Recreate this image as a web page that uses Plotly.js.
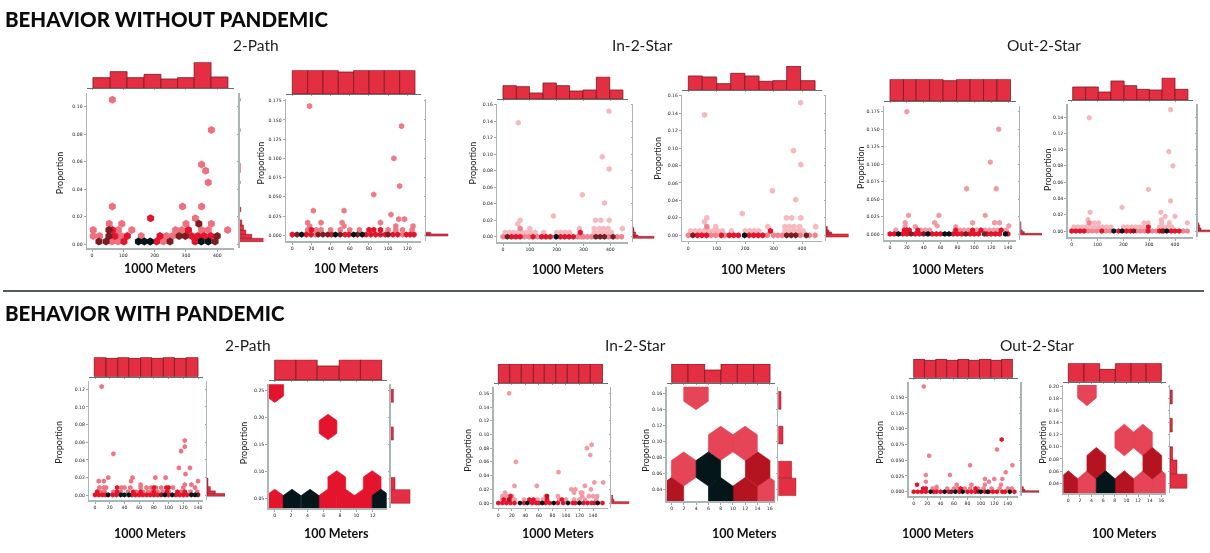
<!DOCTYPE html>
<html><head><meta charset="utf-8">
<script src="https://cdn.plot.ly/plotly-3.0.1.min.js"></script>
<style>html,body{margin:0;padding:0;background:#fff}#c{width:1210px;height:553px}
.cartesianlayer{filter:blur(.4px)}</style>
</head><body><div id="c"></div>
<script>
// ---------- data ----------
const a1TopEdges=[3,58,112,166,220,273,326,380,434];
const a1TopVals=[32,50,32,42,28,32,78,34];
const a1Right=[[.0019,.0044,72],[.0044,.0073,37],[.0073,.0104,19],[.0104,.014,12],[.014,.0177,7],[.0237,.0269,4],[.044,.046,2],[.052,.059,2],[.082,.084,2],[.104,.106,2]];
const a1Pale=[[64,.002],[83,.002],[228,.002],[4,.006],[24,.006],[93,.006],[157,.006],[238,.006],[257,.006],[4,.0104],[84,.0104],[127,.0104],[267,.0104],[287,.0104],[350,.0104],[371,.0104],[433,.0104],[55,.015],[95,.015],[300,.015],[381,.015],[330,.019],[65,.0275],[289,.0275],[350,.0275],[371,.045],[350,.058],[363,.0535],[381,.083],[65,.105]];
const a1Red=[[102,.002],[206,.002],[329,.002],[73,.006],[113,.006],[217,.006],[318,.006],[338,.006],[358,.006],[379,.006],[65,.0104],[308,.0104],[187,.019]];
const a1Dark=[[22,.002],[45,.002],[249,.002],[393,.002],[54,.006],[278,.006],[298,.006],[400,.006],[54,.0104],[341,.015]];
const a1Black=[[148,.002],[167,.002],[186,.002],[349,.002],[371,.002]];

const a2TopEdges=[0,16,32,48,64,80,96,112,128];
const a2TopVals=[71,71,71,66,71,71,71,71];
const a2Right=[[-.001,.0018,67],[.0018,.004,14]];
const a2Pale=[[24,.001],[115,.001],[16,.007],[25,.007],[30,.007],[40,.007],[50,.007],[60,.007],[70,.007],[100,.007],[108,.007],[115,.007],[125,.007],[18,.012],[54,.012],[108,.012],[126,.012],[16,.0165],[30,.0165],[52,.0165],[92,.0165],[111,.021],[117,.021],[103,.027],[22,.032],[54,.032],[85,.053],[112,.064],[106,.1],[114,.142],[18,.168]];
const a2Red=[[0,.001],[14.6,.001],[19.5,.001],[41,.001],[55,.001],[59,.001],[77,.001],[82,.001],[87,.001],[92,.001],[97,.001],[105,.001],[110,.001],[119,.001],[123,.001],[127,.001],[20,.007],[80,.007],[85,.007],[92,.007]];
const a2Dark=[[4.9,.001],[27,.001],[32,.001],[37,.001],[50,.001],[68,.001],[100,.001]];
const a2Black=[[9.7,.001],[45,.001],[64,.001],[73,.001]];

const a3TopEdges=[0,50,99,149,199,248,298,348,398,447];
const a3TopVals=[40,37,18,48,40,24,27,67,27];
const a3Right=[[-.002,.0004,64],[.0004,.002,15],[.002,.0057,8],[.0057,.0089,3],[.0089,.0113,2]];
const a3Pale=[[8,.005],[24,.005],[40,.005],[56,.005],[72,.005],[88,.005],[104,.005],[120,.005],[152,.005],[200,.005],[216,.005],[232,.005],[248,.005],[340,.005],[356,.005],[372,.005],[388,.005],[404,.005],[100,.01],[285,.01],[340,.01],[360,.01],[375,.01],[392,.01],[445,.01],[64,.02],[55,.0155],[188,.025],[345,.02],[365,.02],[396,.02],[378,.041],[296,.051],[396,.082],[370,.097],[57,.138],[395,.152]];
const a3Mid=[[0,0],[80,0],[96,0],[128,0],[278,0],[292,0],[300,0],[315,0],[330,0],[394,0],[426,0],[442,0],[64,.01]];
const a3Red=[[32,0],[48,0],[64,0],[112,0],[144,0],[160,0],[176,0],[214,0],[230,0],[246,0],[262,0],[288,.005]];
const a3Dark=[[16,0],[346,0],[362,0],[378,0],[410,0]];
const a3Black=[[198,0]];

const a4TopEdges=[0,49,100,149,199,249,297,346,395,446];
const a4TopVals=[43,40,20,51,43,27,29,73,29];
const a4Right=[[-.002,.0015,68],[.0015,.0038,17],[.0038,.006,9],[.006,.01,4]];
const a4Pale=[[8,.005],[24,.005],[40,.005],[56,.005],[72,.005],[88,.005],[104,.005],[120,.005],[152,.005],[200,.005],[216,.005],[232,.005],[248,.005],[340,.005],[356,.005],[372,.005],[388,.005],[404,.005],[96,.01],[280,.01],[340,.01],[356,.01],[372,.01],[392,.01],[448,.01],[65,.02],[57,.0155],[190,.025],[345,.02],[364,.02],[396,.02],[378,.041],[296,.051],[396,.081],[370,.097],[57,.138],[395,.152]];
const a4Mid=[[0,0],[80,0],[96,0],[128,0],[278,0],[300,0],[315,0],[330,0],[394,0],[426,0],[446,0],[65,.01]];
const a4Red=[[32,0],[48,0],[64,0],[116,0],[144,0],[160,0],[176,0],[214,0],[230,0],[246,0],[262,0],[289,.005]];
const a4Dark=[[16,0],[346,0],[362,0],[378,0],[415,0]];
const a4Black=[[198,0]];

const a5TopEdges=[0,16,31,47,63,79,95,111,127,143];
const a5TopVals=[65,65,65,65,61,65,65,65,65];
const a5Right=[[-.001,.0014,65],[.0014,.0038,12],[.0038,.0062,6],[.0062,.018,2]];
const a5Pale=[[7,.006],[37,.006],[42,.006],[47,.006],[83,.006],[88,.006],[93,.006],[103,.006],[113,.006],[118,.006],[123,.006],[128,.006],[138,.006],[30,.011],[18,.011],[56,.012],[141,.012],[78,.011],[18,.0165],[53,.0165],[98,.0165],[124,.0165],[130,.0165],[22,.027],[58,.027],[113,.027],[91,.065],[126,.065],[119,.103],[129,.15],[20,.175]];
const a5Red=[[0,.0005],[5,.0005],[15,.0005],[20,.0005],[30,.0005],[35,.0005],[50,.0005],[55,.0005],[60,.0005],[75,.0005],[80,.0005],[85,.0005],[95,.0005],[100,.0005],[105,.0005],[115,.0005],[120,.0005],[125,.0005],[130,.0005],[140,.0005],[17,.006],[20,.006],[23,.006],[33,.006],[78,.006],[98,.006],[108,.006],[132,.006]];
const a5Dark=[[25,.0005],[40,.0005],[90,.0005],[112,.0005]];
const a5Black=[[10,.0005],[45,.0005],[65,.0005],[70,.0005],[137,.0005]];

const a6TopEdges=[4,54,103,152,203,252,301,350,400,450];
const a6TopVals=[39,39,24,57,43,32,30,67,32];
const a6Right=[[-.001,.0012,37],[.0012,.0037,10],[.0037,.0074,6],[.0074,.0102,3]];
const a6Pale=[[8,.005],[24,.005],[40,.005],[56,.005],[72,.005],[88,.005],[104,.005],[120,.005],[136,.005],[152,.005],[200,.005],[216,.005],[232,.005],[248,.005],[264,.005],[280,.005],[296,.005],[340,.005],[356,.005],[372,.005],[388,.005],[70,.01],[88,.01],[104,.01],[280,.01],[296,.01],[348,.01],[378,.01],[448,.01],[63,.014],[348,.014],[362,.018],[400,.018],[71,.023],[345,.023],[195,.029],[383,.037],[297,.051],[392,.08],[376,.0975],[68,.139],[383,.149]];
const a6Mid=[[64,0],[80,0],[96,0],[132,0],[148,0],[250,0],[266,0],[282,0],[312,0],[328,0],[432,0],[448,0],[67,.01]];
const a6Red=[[0,0],[16,0],[32,0],[48,0],[116,0],[182,0],[212,0],[228,0],[296,0],[340,0],[356,0],[385,0],[400,0],[416,0],[297,.005]];
const a6Dark=[[240,0],[350,0]];
const a6Black=[[163,0],[195,0],[368,0]];

const b1TopEdges=[-1,15,31,46,62,77,93,108,124,140];
const b1TopVals=[58,55,58,55,58,55,58,55,58];
const b1Right=[[-.001,.002,54],[.002,.005,25],[.005,.0098,10],[.0098,.0196,3]];
const b1Pale=[[3,.004],[8,.004],[13,.004],[25,.004],[35,.004],[45,.004],[56,.004],[65,.004],[72,.004],[78,.004],[85,.004],[92,.004],[100,.004],[117,.004],[130,.004],[139,.004],[6,.0087],[12,.0087],[15,.0087],[36,.0087],[40,.0087],[48,.0087],[62,.0087],[70,.0087],[76,.0087],[83,.0087],[90,.0087],[106,.0087],[120,.0087],[136,.0087],[5,.016],[49,.016],[12,.016],[62,.012],[140,.016],[18,.02],[51,.02],[82,.02],[96,.02],[131,.012],[122,.012],[123,.024],[114,.031],[129,.031],[25,.047],[117,.05],[122,.055],[122,.062],[9,.123]];
const b1Red=[[0,.0005],[5,.0005],[10,.0005],[14,.0005],[24,.0005],[29,.0005],[50,.0005],[55,.0005],[60,.0005],[65,.0005],[70,.0005],[75,.0005],[80,.0005],[85,.0005],[100,.0005],[110,.0005],[115,.0005],[120,.0005],[125,.0005],[3,.004],[30,.004],[52,.004],[62,.004],[80,.004],[98,.004],[112,.004],[122,.004],[30,.0087],[80,.0087],[97,.0087],[100,.0087]];
const b1Dark=[[140,.0005],[90,.0005]];
const b1Black=[[18,.0005],[35,.0005],[40,.0005],[46,.0005],[95,.0005],[105,.0005],[131,.0005],[136,.0005]];

const b2TopEdges=[0,2.6,5.2,7.9,10.5,13.1];
const b2TopVals=[61,61,42,61,61];
const b2Right=[[.2272,.2512,8],[.1577,.1817,8],[.066,.0882,13],[.0408,.066,59]];
const b2RedCells=[[0,.0432],[6.49,.0432],[8.69,.0432],[10.86,.0432],[7.6,.0775],[11.94,.0775],[6.53,.1817],[0,.2506]];
const b2BlackCells=[[2.12,.0432],[4.33,.0432],[13.02,.0432]];

const b3TopEdges=[0,17,34,52,68,85,102,119,136,154];
const b3TopVals=[58,58,58,58,58,58,58,58,58];
const b3Right=[[-.001,.002,54],[.002,.0054,8],[.0054,.0117,4]];
const b3Pale=[[6,.005],[12,.005],[18,.005],[24,.005],[38,.005],[58,.005],[66,.005],[90,.005],[100,.005],[112,.005],[120,.005],[128,.005],[145,.005],[6,.01],[12,.01],[20,.01],[70,.01],[88,.01],[124,.01],[134,.01],[140,.01],[146,.01],[10,.015],[112,.015],[122,.015],[108,.02],[114,.02],[124,.015],[137,.02],[24,.025],[57,.025],[128,.025],[142,.03],[155,.03],[89,.045],[26,.06],[136,.07],[131,.08],[138,.085],[16,.16]];
const b3Red=[[0,0],[6,0],[12,0],[18,0],[24,0],[38,0],[50,0],[56,0],[60,0],[70,0],[76,0],[88,0],[96,0],[110,0],[114,0],[126,0],[132,0],[138,0],[142,0],[154,0],[8,.005],[16,.005],[18,.01],[46,.005],[52,.005],[72,.005],[94,.005]];
const b3Dark=[[16,.005],[72,.01]];
const b3Black=[[32,0],[43,0],[65,0],[82,0],[103,0],[120,0],[147,0]];

const b4TopEdges=[0,2.67,5.39,8.05,10.72,13.39,16.05];
const b4TopVals=[56,56,38,56,56,56];
const b4Right=[[.14,.1622,8],[.0967,.1188,14],[.0538,.075,40],[.0321,.0538,54]];
const b4MidCells=[[3.97,.1608],[8,.0975],[11.97,.0975],[1.96,.0654],[16,.0333]];
const b4DarkCells=[[14.04,.0654],[-.05,.0333],[11.97,.0333]];
const b4BlackCells=[[5.99,.0654],[8,.0333]];

const b5TopEdges=[0,16,33,49,66,82,98,115,131,147];
const b5TopVals=[56,52,56,52,56,52,56,52,56];
const b5Right=[[-.001,.0016,52],[.0016,.0037,10],[.0037,.008,5]];
const b5Pale=[[28,.005],[34,.005],[50,.005],[60,.005],[66,.005],[76,.005],[84,.005],[96,.005],[104,.005],[116,.005],[128,.005],[140,.005],[146,.005],[34,.008],[64,.011],[86,.011],[106,.011],[112,.016],[130,.011],[106,.02],[120,.02],[132,.02],[18,.016],[18,.0265],[54,.0265],[137,.031],[84,.042],[147,.042],[23,.057],[124,.067],[15,.167]];
const b5Red=[[0,0],[6,0],[12,0],[18,0],[30,0],[34,0],[40,0],[52,0],[68,0],[80,0],[86,0],[92,0],[106,0],[112,0],[118,0],[124,0],[132,0],[136,0],[150,0],[5,.011],[14,.005],[18,.005],[70,.005],[92,.005],[131,.083]];
const b5Dark=[[56,0],[96,.0002]];
const b5Black=[[25,0],[46,0],[62,0],[73,0],[100,0],[110,0],[143,0]];

const b6TopEdges=[0,2.7,5.4,8.1,10.8,13.4,16];
const b6TopVals=[55,55,37,55,55,55];
const b6Right=[[.1704,.1934,7],[.1244,.1468,7],[.0784,.1003,8],[.0548,.0784,21],[.0318,.0548,52]];
const b6MidCells=[[3.21,.1934],[9.63,.1112],[12.84,.1112],[3.21,.0345],[12.84,.0345],[16.05,.0345]];
const b6DarkCells=[[4.82,.0729],[14.45,.0729],[0,.0345],[9.63,.0345]];
const b6BlackCells=[[6.42,.0345]];

const headings=["BEHAVIOR WITHOUT PANDEMIC","BEHAVIOR WITH PANDEMIC"];
const subplotNames=["2-Path","In-2-Star","Out-2-Star"];
const xLabels=["1000 Meters","100 Meters"];
const yLabel="Proportion";

// ---------- layout of the twelve panels, in page pixels ----------
const W=1210,H=553;
const RED='#e3142c',BLACK='#05161a',DARK1='#7d1c22',MID='#e64457',DARK2='#b4141f',SALMON='#ee8490';
const panels=[
 {box:[87,234,93,248],xt:[92,0,217.3,400],yt:[244.3,0,106.7,.1],dx:100,dy:.02,f:'.2f',sp:239.5,tb:88.3,s:8,pale:'#ee707c',dark:DARK1,top:[a1TopEdges,a1TopVals],right:a1Right,pts:[a1Pale,a1Red,a1Dark,a1Black],xl:[160,268,0],yl:[59.3,173]},
 {box:[286,421,99.3,241],xt:[292.3,0,407.3,120],yt:[235.3,0,100.7,.175],dx:20,dy:.025,f:'.3f',sp:426,tb:94,s:6.2,pale:'#ee7a86',dark:DARK1,top:[a2TopEdges,a2TopVals],right:a2Right,pts:[a2Pale,a2Red,a2Dark,a2Black],xl:[346.7,268,1],yl:[260.7,162.7]},
 {box:[497.3,627.7,104,242.3],xt:[503,0,610.3,400],yt:[236.7,0,104.7,.16],dx:100,dy:.02,f:'.2f',sp:633,tb:99,s:6,pale:'#f6b9bf',dark:DARK1,top:[a3TopEdges,a3TopVals],right:a3Right,pts:[a3Pale,a3Red,a3Dark,a3Black],mid:a3Mid,xl:[568,269,0],yl:[472.7,162.7]},
 {box:[682.3,821.7,95,240.7],xt:[688.3,0,802,400],yt:[235.3,0,95.7,.16],dx:100,dy:.02,f:'.2f',sp:826,tb:90.3,s:6.2,pale:'#f6b9bf',dark:DARK1,top:[a4TopEdges,a4TopVals],right:a4Right,pts:[a4Pale,a4Red,a4Dark,a4Black],mid:a4Mid,xl:[754,269,1],yl:[656.7,158]},
 {box:[884,1015.7,106,240],xt:[890,0,1008,140],yt:[234.3,0,111.7,.175],dx:20,dy:.025,f:'.3f',sp:1020.3,tb:101,s:5.8,pale:'#f09aa3',dark:DARK1,top:[a5TopEdges,a5TopVals],right:a5Right,pts:[a5Pale,a5Red,a5Dark,a5Black],xl:[947.7,269,0],yl:[860,168]},
 {box:[1067.7,1193.3,104,237.3],xt:[1071.7,0,1175,400],yt:[231,0,117,.14],dx:100,dy:.02,f:'.2f',sp:1197.7,tb:100,s:5.6,pale:'#f6b5bb',dark:DARK1,top:[a6TopEdges,a6TopVals],right:a6Right,pts:[a6Pale,a6Red,a6Dark,a6Black],mid:a6Mid,xl:[1134,269,1],yl:[1048,170]},
 {box:[89.3,203.3,381,500],xt:[95,0,198,140],yt:[495.3,0,389.3,.12],dx:20,dy:.02,f:'.2f',sp:207,tb:376.7,s:5.2,pale:'#ee7482',dark:DARK1,top:[b1TopEdges,b1TopVals],right:b1Right,pts:[b1Pale,b1Red,b1Dark,b1Black],xl:[150,533,0],yl:[59,442.7]},
 {box:[268.7,386.7,384.3,508.3],xt:[274.7,0,372.7,12],yt:[498.3,.05,390,.25],dx:2,dy:.05,f:'.2f',sp:390.7,tb:380,top:[b2TopEdges,b2TopVals],right:b2Right,hex:[1.08,.0235,[[b2RedCells,RED],[b2BlackCells,BLACK]]],xl:[336.7,533,1],yl:[243.3,443]},
 {box:[493.7,607.7,387.3,507.7],xt:[498.3,0,593,140],yt:[503,0,393.3,.16],dx:20,dy:.02,f:'.2f',sp:611.3,tb:383.3,s:5.2,pale:'#f29aa5',dark:DARK2,top:[b3TopEdges,b3TopVals],right:b3Right,pts:[b3Pale,b3Red,b3Dark,b3Black],xl:[558,533,0],yl:[468,450.7]},
 {box:[666.7,774.7,386.7,501],xt:[671.7,0,769.7,16],yt:[489.3,.04,393.3,.16],dx:2,dy:.02,f:'.2f',sp:778.3,tb:382.7,top:[b4TopEdges,b4TopVals],right:b4Right,hex:[2,.0213,[[b4MidCells,MID],[b4DarkCells,DARK2],[b4BlackCells,BLACK]]],xl:[745,533,1],yl:[646,450.7]},
 {box:[908.7,1018,381.7,496],xt:[913.7,0,1007.7,140],yt:[491.7,0,397.3,.15],dx:20,dy:.025,f:'.3f',sp:1021.7,tb:377.7,s:5,pale:'#ee7f8b',dark:DARK1,top:[b5TopEdges,b5TopVals],right:b5Right,pts:[b5Pale,b5Red,b5Dark,b5Black],xl:[937.7,533,0],yl:[880,442.7]},
 {box:[1063.3,1165.7,385,493.3],xt:[1068.3,0,1161.3,16],yt:[483.3,.04,386,.2],dx:2,dy:.02,f:'.2f',sp:1170,tb:381.7,top:[b6TopEdges,b6TopVals],right:b6Right,hex:[1.606,.026,[[b6MidCells,MID],[b6DarkCells,DARK2],[b6BlackCells,BLACK]]],xl:[1124,533,1],yl:[1043,442.7]}
];
const titlesAt=[[256,45,0],[642,45,1],[1044,45,2],[248,345,0],[635,345,1],[1037,345,2]];

// ---------- build ----------
const traces=[],layout={width:W,height:H,margin:{l:0,r:0,t:0,b:0},paper_bgcolor:'#fff',plot_bgcolor:'rgba(0,0,0,0)',showlegend:false,bargap:0,annotations:[],
 shapes:[{type:'line',xref:'paper',yref:'paper',x0:3/W,x1:1204/W,y0:1-291/H,y1:1-291/H,line:{color:'#16272e',width:1.5}}]};
const px=(a)=>a/W, py=(a)=>1-a/H;
const spine='#aab6b6', tickC='#222';
function rng(p0,p1,t){const k=(t[3]-t[1])/(t[2]-t[0]);return [t[1]+(p0-t[0])*k,t[1]+(p1-t[0])*k];}
function ann(text,x,y,size,weight,ang,color){layout.annotations.push({text,x:px(x),y:py(y),xref:'paper',yref:'paper',xanchor:'center',yanchor:'middle',showarrow:false,textangle:ang||0,font:{family:'Lato',size,weight,color:color||'#111'}});}
function mids(e){return e.slice(0,-1).map((v,i)=>(v+e[i+1])/2);}
function wids(e){return e.slice(0,-1).map((v,i)=>e[i+1]-v);}
function xticks(p){const a=[];for(let i=0;i*p.dx<=p.xt[3]+1e-9;i++)a.push(i*p.dx);return a;}
let n=1;
panels.forEach(p=>{
 const [x0,x1,yt,yb]=p.box;
 const m=n,t=n+1,r=n+2;n+=3;
 const xr=rng(x0,x1,p.xt),yr=rng(yb,yt,p.yt);
 const ax={showgrid:false,zeroline:false,showline:true,linecolor:spine,linewidth:1.5,ticks:'outside',ticklen:2,tickwidth:.6,tickcolor:'#667',tickfont:{size:4.6,color:tickC,family:'DejaVu Sans'}};
 // main
 layout['xaxis'+m]=Object.assign({},ax,{domain:[px(x0),px(x1)],range:xr,anchor:'y'+m,tickmode:'array',tickvals:xticks(p)});
 layout['yaxis'+m]=Object.assign({},ax,{domain:[py(yb),py(yt)],range:yr,anchor:'x'+m,dtick:p.dy,tick0:0,tickformat:p.f});
 if(p.pts){
  const groups=[[p.pts[0],p.pale]];
  if(p.mid) groups.push([p.mid,SALMON]);
  groups.push([p.pts[1],RED],[p.pts[2],p.dark],[p.pts[3],BLACK]);
  groups.forEach(g=>traces.push({type:'scatter',mode:'markers',xaxis:'x'+m,yaxis:'y'+m,x:g[0].map(a=>a[0]),y:g[0].map(a=>a[1]),marker:{symbol:'hexagon',size:p.s,color:g[1],line:{width:0}},hoverinfo:'skip'}));
 }
 if(p.hex){
  const [hx,hy,groups]=p.hex;
  groups.forEach(g=>{
   const xs=[],ys=[];
   g[0].forEach(c=>{
    [[0,hy],[hx,hy/2],[hx,-hy/2],[0,-hy],[-hx,-hy/2],[-hx,hy/2],[0,hy]].forEach(o=>{xs.push(c[0]+o[0]);ys.push(c[1]+o[1]);});
    xs.push(null);ys.push(null);
   });
   traces.push({type:'scatter',mode:'lines',fill:'toself',fillcolor:g[1],line:{width:.7,color:g[1]},xaxis:'x'+m,yaxis:'y'+m,x:xs,y:ys,hoverinfo:'skip'});
  });
 }
 // top histogram
 const tv=p.top[1],tmax=Math.max(...tv);
 layout['xaxis'+t]=Object.assign({},ax,{domain:[px(x0),px(x1)],range:xr,anchor:'y'+t,tickmode:'array',tickvals:xticks(p),showticklabels:false,linecolor:'#66706f',linewidth:1,ticklen:1});
 layout['yaxis'+t]={domain:[py(p.tb),py(p.tb-tmax/3)],range:[0,tmax],anchor:'x'+t,visible:false};
 traces.push({type:'bar',xaxis:'x'+t,yaxis:'y'+t,x:mids(p.top[0]),width:wids(p.top[0]),y:tv,marker:{color:'#e42e42',line:{color:'#7c1a24',width:.8}},hoverinfo:'skip'});
 // right histogram
 const rv=p.right.map(a=>a[2]),rmax=Math.max(...rv);
 layout['yaxis'+r]=Object.assign({},ax,{domain:[py(yb),py(yt)],range:yr,anchor:'x'+r,dtick:p.dy,tick0:0,showticklabels:false,ticklen:1});
 layout['xaxis'+r]={domain:[px(p.sp),px(p.sp+rmax/3)],range:[0,rmax],anchor:'y'+r,visible:false};
 traces.push({type:'bar',orientation:'h',xaxis:'x'+r,yaxis:'y'+r,y:p.right.map(a=>(a[0]+a[1])/2),width:p.right.map(a=>a[1]-a[0]),x:rv,marker:{color:'#e42e42',line:{color:'#7c1a24',width:.5}},hoverinfo:'skip'});
 // labels
 ann(xLabels[p.xl[2]],p.xl[0],p.xl[1],12.5,700);
 ann(yLabel,p.yl[0],p.yl[1],9,400,-90,'#222');
});
[[headings[0],3,19],[headings[1],3,313]].forEach(h=>layout.annotations.push({text:h[0],x:px(h[1]),y:py(h[2]),xref:'paper',yref:'paper',xanchor:'left',yanchor:'middle',showarrow:false,font:{family:'Lato',size:20.5,weight:900,color:'#0b0b0b'}}));
titlesAt.forEach(a=>ann(subplotNames[a[2]],a[0],a[1],15.5,400,0,'#1c1c1c'));
Plotly.newPlot('c',traces,layout,{displayModeBar:false,staticPlot:true});
</script></body></html>
